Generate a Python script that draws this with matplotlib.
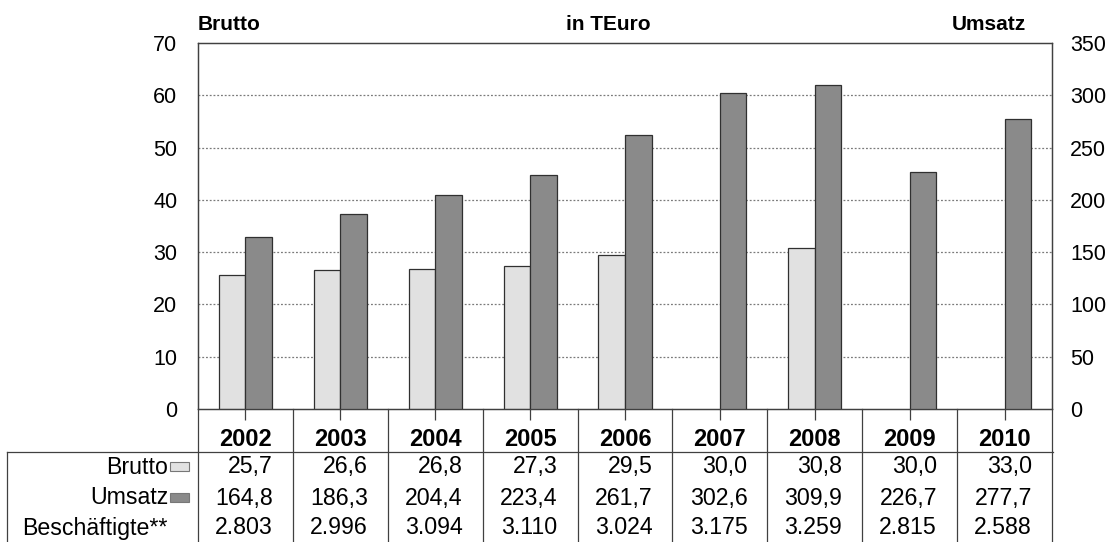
import matplotlib
matplotlib.use("Agg")
import matplotlib.pyplot as plt
import matplotlib.transforms as mtransforms
from matplotlib.patches import Rectangle
from matplotlib.lines import Line2D
import numpy as np

plt.rcParams['font.family'] = ['Liberation Sans', 'DejaVu Sans']

# --- data -------------------------------------------------------------
years = ['2002', '2003', '2004', '2005', '2006', '2007', '2008', '2009', '2010']
brutto = [25.7, 26.6, 26.8, 27.3, 29.5, 30.0, 30.8, 30.0, 33.0]
umsatz = [164.8, 186.3, 204.4, 223.4, 261.7, 302.6, 309.9, 226.7, 277.7]
beschaeftigte = ['2.803', '2.996', '3.094', '3.110', '3.024', '3.175', '3.259', '2.815', '2.588']
# Brutto bars are only plotted for some years; the table lists all of them
brutto_plotted = [True, True, True, True, True, False, True, False, False]

left_ticks = [0, 10, 20, 30, 40, 50, 60, 70]
right_ticks = [0, 50, 100, 150, 200, 250, 300, 350]

# --- styling ----------------------------------------------------------
W, H = 1119, 542
light = '#e1e1e1'
dark = '#8a8a8a'
edge = '#303030'
line_c = '#404040'
table_fs = 16.7

fig = plt.figure(figsize=(W / 100, H / 100), dpi=100)


def fx(px):
    return px / W


def fy(py):
    return 1 - py / H


ax_l, ax_r, ax_t, ax_b = 198, 1052, 43, 409
ax = fig.add_axes([fx(ax_l), fy(ax_b), fx(ax_r - ax_l), (ax_b - ax_t) / H])
ax2 = ax.twinx()

n = len(years)
x = np.arange(n)
bw = 0.28

ax.set_xlim(-0.5, n - 0.5)
ax.set_ylim(0, 70)
ax2.set_ylim(0, 350)

bx = [xi - bw / 2 for xi, show in zip(x, brutto_plotted) if show]
bh = [v for v, show in zip(brutto, brutto_plotted) if show]
ax.bar(bx, bh, width=bw, color=light, edgecolor=edge, linewidth=0.9, zorder=3)
ax2.bar(x + bw / 2, umsatz, width=bw, color=dark, edgecolor=edge, linewidth=0.9, zorder=3)

# dotted horizontal grid
ax.set_yticks(left_ticks)
ax2.set_yticks(right_ticks)
for t in left_ticks[1:-1]:
    ax.axhline(t, color='#7a7a7a', linestyle=(0, (1.5, 1.5)), linewidth=0.9, zorder=1)

ax.tick_params(axis='y', length=0, pad=15, labelsize=15.5)
ax2.tick_params(axis='y', length=0, pad=13, labelsize=15.5)
ax.set_xticks(x)
ax.set_xticklabels([])
ax.tick_params(axis='x', direction='out', length=8, width=0.9, color=line_c)
ax2.tick_params(axis='x', length=0)

for a in (ax, ax2):
    for s in a.spines.values():
        s.set_color(line_c)
        s.set_linewidth(0.9)

# headings above the plot
fig.text(fx(198), fy(25), 'Brutto', fontsize=15, fontweight='bold', ha='left', va='center')
fig.text(fx(608), fy(25), 'in TEuro', fontsize=15, fontweight='bold', ha='center', va='center')
fig.text(fx(1026), fy(25), 'Umsatz', fontsize=15, fontweight='bold', ha='right', va='center')

# --- data table below the axis ---------------------------------------
tr = mtransforms.blended_transform_factory(ax.transData, fig.transFigure)
header_line = 452
row_centers = [467, 498, 528]
table_left = 7
bottom = 542

# header row of years
for xi, yr in zip(x, years):
    fig.text(xi, fy(439), yr, transform=tr, fontsize=17, fontweight='bold',
             ha='center', va='center')

# grid lines of the table
fig.add_artist(Line2D([fx(table_left), fx(ax_r + 1)], [fy(header_line)] * 2,
                      color=line_c, linewidth=0.9))
fig.add_artist(Line2D([fx(table_left)] * 2, [fy(header_line), fy(bottom)],
                      color=line_c, linewidth=0.9))
for b in np.arange(n + 1) - 0.5:
    fig.add_artist(Line2D([b, b], [fy(ax_b), fy(bottom)], transform=tr,
                          color=line_c, linewidth=0.9))

# row labels with legend swatches
labels = ['Brutto', 'Umsatz', 'Beschäftigte**']
swatch_colors = [light, dark, None]
for lab, yc, sc in zip(labels, row_centers, swatch_colors):
    fig.text(fx(168), fy(yc), lab, fontsize=table_fs, ha='right', va='center')
    if sc is not None:
        fig.add_artist(Rectangle((fx(170), fy(yc + 4)), fx(19), 9 / H,
                                 facecolor=sc, edgecolor='#777777', linewidth=0.8))

rows = [[f'{v:.1f}'.replace('.', ',') for v in brutto],
        [f'{v:.1f}'.replace('.', ',') for v in umsatz],
        beschaeftigte]
cell_px = (ax_r - ax_l) / n
for vals, yc in zip(rows, row_centers):
    for xi, v in zip(x, vals):
        fig.text(xi + 0.5 - 20 / cell_px, fy(yc), v, transform=tr,
                 fontsize=table_fs, ha='right', va='center')

fig.savefig('out.png', dpi=100)
